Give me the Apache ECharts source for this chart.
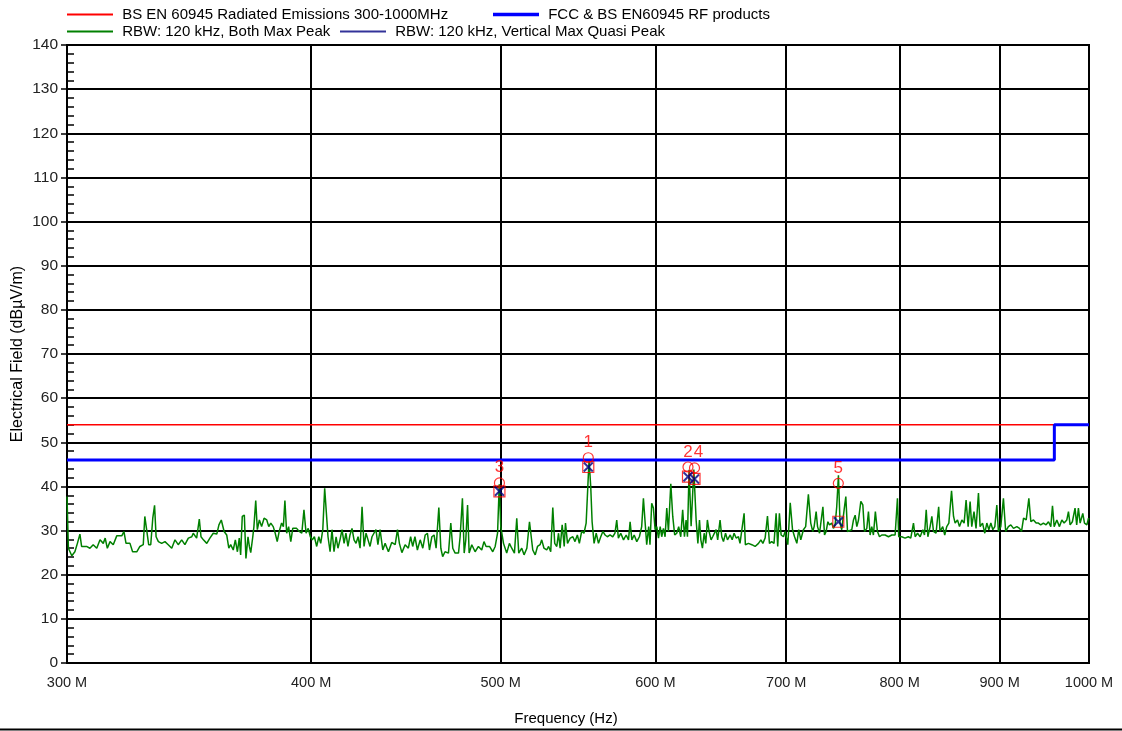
<!DOCTYPE html>
<html><head><meta charset="utf-8">
<script src="https://cdn.jsdelivr.net/npm/echarts@6/dist/echarts.min.js"></script>
<style>html,body{margin:0;padding:0;background:#fff}#c{width:1122px;height:731px}</style>
</head><body><div id="c"></div>
<script>
// ---- data (frequency in MHz, level in dBµV/m) ----
const xTickValues = [300, 400, 500, 600, 700, 800, 900, 1000];
const seriesNames = ['BS EN 60945 Radiated Emissions 300-1000MHz', 'FCC & BS EN60945 RF products',
  'RBW: 120 kHz, Both Max Peak', 'RBW: 120 kHz, Vertical Max Quasi Peak'];
const limitEN = [[300, 54], [1000, 54]];
const limitFCC = [[300, 46], [960, 46], [960, 54], [1000, 54]];
const maxPeakTrace = [
[300.0,37.7],[300.5,26],[301.7,24.3],[302.8,25.2],[303.7,27.1],[304.6,29.2],[305.2,26.4],[307.0,26.4],[308.2,26],[309.4,26.8],
[310.7,26],[311.9,27.9],[313.1,27.1],[313.8,28.3],[314.6,26],[315.6,27.5],[316.8,26.8],[318.1,28.8],[320.0,28.8],[320.8,29.8],
[321.6,27.1],[323.1,27.1],[324.1,25.2],[325.7,25.2],[326.9,26.4],[328.2,26.8],[328.8,33.2],[329.5,32.8],[330.3,26.8],[331.1,26.8],
[331.9,32.8],[332.6,35.7],[333.2,28.6],[334.1,27.5],[335.4,27.1],[336.7,27.5],[338.0,26.8],[339.4,26],[340.7,27.9],[342.0,26.8],
[343.4,27.9],[344.7,26.8],[346.1,28.3],[347.5,28.6],[348.1,29.4],[349.5,28.3],[350.6,32.6],[351.3,28.6],[352.3,27.9],[353.7,27.1],
[355.0,28.3],[356.4,29.4],[357.9,29.2],[358.8,31.3],[359.8,32.4],[361.0,29.8],[362.1,29],[363.0,26],[363.8,26.8],[364.9,25.6],
[365.8,27.9],[366.7,25.2],[367.5,28.3],[368.1,24.5],[368.8,33.2],[369.7,33.5],[370.4,23.7],[371.3,28.6],[371.9,26.4],[372.5,25],
[373.4,28.6],[373.9,30.9],[374.7,36.8],[375.4,30.2],[376.3,32.4],[377.3,30.9],[378.4,32.8],[379.6,32.4],[380.5,30.9],[381.4,31.7],
[382.5,30.9],[383.4,29.4],[384.3,27.5],[385.2,29.8],[386.3,31.7],[387.1,30.9],[387.8,36.8],[388.6,29.4],[389.5,30.9],[390.5,27.5],
[391.4,30.5],[392.3,30.2],[393.2,30.5],[394.4,29.8],[395.6,29.4],[396.6,34.7],[397.6,29.4],[398.6,30.5],[399.6,28.6],[400.5,27.9],
[401.5,28.6],[402.6,26.4],[403.6,28.6],[404.5,27.1],[405.5,30.2],[406.4,39.6],[407.0,39.6],[408.0,28.6],[409.0,25.2],[409.9,30.2],
[410.9,25.2],[411.9,28.6],[412.8,26],[413.8,27.9],[414.8,30.2],[415.8,27.1],[416.7,29.4],[417.7,26.4],[418.7,29],[419.7,30.5],
[420.7,27.9],[421.7,27.1],[422.7,28.6],[423.7,26],[424.7,35.4],[425.7,26.4],[426.7,29.4],[427.7,27.9],[428.7,26.4],[429.7,28.6],
[430.7,28.6],[431.7,30.2],[432.7,26.8],[433.8,30.2],
[435.2,25.6],[436.4,27.1],[438.1,25.2],[439.8,27.3],[441.6,26.8],[442.8,30.2],[443.8,27.1],[445.1,25],[446.8,26.8],[448.5,26],
[449.7,28.6],[450.8,26.4],[452.0,28.6],[453.3,25.6],[454.8,27.9],[456.2,26],[457.5,29],[458.7,29.4],[459.8,25.6],[461.1,28.6],
[462.3,29],[463.4,26],[464.9,35.2],[466.0,26],[467.0,24.1],[468.3,25.2],[470.2,24.9],[471.5,31.7],[472.6,26],[473.9,24.9],
[475.8,24.9],[476.7,28.6],[478.0,37.3],[479.0,24.9],[479.9,27.9],[480.9,35.8],[481.8,24.9],[483.3,26.8],[485.2,25.2],[487.1,26.4],
[489.0,25.6],[490.3,27.5],[491.5,26.4],[493.5,26.4],[495.4,25.2],[496.8,26.4],[498.2,29.4],[499.2,40.5],[500.1,30.9],[501.7,27.1],
[503.6,24.9],[505.2,27.1],[506.6,26],[508.2,24.9],[509.6,32.8],[510.8,24.9],[512.6,26],[514.0,24.5],[515.7,26],[517.3,32],
[518.3,32.4],[519.3,25.6],[520.8,24.5],[522.2,26.4],[523.8,26.8],[524.8,27.9],[526.2,26],[527.9,25.6],[529.1,26.4],[530.4,25.2],
[531.7,35.2],[532.9,27.1],[534.2,26.4],[535.3,29.4],[536.3,26],[537.6,31.3],[538.9,26.4],[539.7,31.7],[541.0,27.1],[542.7,28.3],
[544.4,28.6],[545.8,27.5],[547.3,29],[548.6,27.1],[550.1,29.8],[551.6,29.4],[553.0,31.7],[554.1,40],[554.9,46],[556.0,40],
[556.9,32],[558.2,27.1],[559.6,29.4],[561.1,27.1],[562.6,28.6],[564.0,29.8],[565.5,29],[567.0,28.6],[568.8,29],[570.6,28.6],
[572.1,29.4],[573.3,32.4],[574.4,28.3],[576.0,29.4],[577.9,27.9],[579.7,29],[581.3,27.9],[582.4,32],[583.6,27.9],[585.2,29],
[587.0,27.5],[588.8,28.6],[590.4,30.9],[591.6,37.3],[592.7,37.3],[593.9,26.8],[595.3,30.9],[596.2,26.8],[597.4,36.2],[598.6,35.1],
[599.8,30.2],[601.0,30.9],[602.2,28.3],[603.4,30.9],[604.5,28.6],[605.7,30.5],[606.9,28.6],[608.1,35.1],[609.3,29.8],[611.0,40.6],
[612.4,33.2],[613.8,29],[615.3,29.4],[616.7,30.9],[618.2,28.6],[619.6,34.7],[620.9,28.6],[622.1,32.4],[623.1,28.6],[624.3,43.8],
[625.8,31],[627.8,43.8],[629.5,32.4],[630.8,27.1],[632.0,32.4],[633.0,27.9],[634.2,26],[635.5,29.4],[636.7,27.1],[637.9,32.4],
[639.2,29.8],[640.7,27.9],[641.9,28.6],[643.2,28.3],[644.5,30.2],[645.7,27.9],[647.5,32.4],[648.8,28.6],[650.1,27.5],[651.7,29.4],
[653.2,27.9],[655.3,29],[656.8,27.9],[658.3,29.4],[659.9,28.3],[661.7,28.6],
[662.9,27.1],[666.1,33.9],[667.1,26.8],[669.5,27.1],[672.2,26.8],[674.8,26.4],[677.5,27.1],[679.4,27.9],[681.0,27.1],[682.8,28.3],
[684.7,33.3],[686.3,27.1],[688.1,27.5],[690.0,27.1],[691.7,33.9],[693.0,26.4],[694.4,33.9],[695.8,29],[697.7,28.6],[699.1,29.8],
[701.3,26.8],[703.3,36.3],[705.2,30.2],[706.9,28.6],[708.8,27.1],[710.4,30.2],[712.1,27.9],[714.3,30.2],[716.2,30.9],[718.5,38.2],
[720.5,31.7],[722.2,29.8],[723.4,30.9],[725.1,34.3],[726.3,30.9],[728.0,29.4],[729.4,29.8],[730.9,35.4],[732.3,29],[733.7,29.8],
[735.2,32],[736.6,31.3],[738.6,31.7],[740.0,30.5],[741.5,31.3],[742.9,35.4],[744.4,42.5],[745.8,31.7],[747.3,30.2],[749.4,34.7],
[750.9,37.7],[752.4,29.8],[754.1,29.8],[756.2,30.2],[757.7,32.4],[759.2,33.5],[760.7,30.9],[762.2,32.4],[764.3,36.6],[766.1,35.8],
[767.6,29.8],[769.7,30.5],[771.2,34.3],[772.7,29],[774.2,30.9],[775.7,29],[777.5,34.3],[779.4,29.8],[781.3,28.6],[783.4,29],
[786.5,29],[789.6,28.6],[792.7,29],[795.8,29],[798.0,37.3],[799.2,28.6],[802.0,28.6],[805.2,28.3],[808.3,28.6],[810.6,28.3],
[813.2,31.7],[814.8,28.6],[817.1,29.4],[819.6,28.6],[822.2,30.2],[823.8,29],[825.5,34.7],[827.1,28.6],[829.3,30.9],[831.0,33.2],
[832.6,29.8],[835.1,29.4],[837.7,35.4],[839.0,29.8],[841.7,30.9],[843.7,29],[845.7,30.9],[847.8,31.7],[850.5,39],[852.5,33.2],
[854.1,31.7],[856.5,32.4],[858.5,30.9],[860.9,32.4],[863.2,31.7],[865.2,36.9],[867.3,30.9],[869.3,36.6],[871.0,30.9],[873.3,34.3],
[875.4,30.5],[877.9,38.5],[879.6,30.9],[882.1,31.7],[884.5,29.4],[886.6,31.7],[888.7,30.2],[890.8,31.7],[892.9,30.2],[895.0,30.9],
[897.1,35.8],[898.8,29.8],[901.3,30.9],[904.1,37.3],[906.5,29.8],[909.4,30.9],[912.0,31.3],[914.9,30.5],[918.5,30.9],[921.4,30.5],
[923.6,29.8],[925.8,32.8],[928.7,32.4],[931.6,37.3],[933.8,32],[936.7,32.4],[939.6,31.7],[942.1,31.7],[944.7,31.3],[947.7,31.7],
[950.7,31.3],[953.4,32],[956.0,30.9],[957.9,35.6],[959.8,30.9],[962.8,32.4],[965.8,30.9],[968.5,32.4],[971.1,31.7],[974.2,32.4],
[976.1,34.3],[978.0,31.3],[980.6,32],[983.7,35.1],[985.6,31.3],[987.6,35.1],[989.6,31.7],[992.7,33.9],[994.7,31.7],[997.5,31.3],
[999.4,32.8],[1000,32.5]
];
const markerLabels = ['1', '2', '3', '4', '5'];
const markerFreq = [554.4, 623.5, 499.3, 628.3, 744.3];
const markerPeak = [46.5, 44.4, 40.8, 44.2, 40.7];
const markerQuasiPeak = [44.4, 42.2, 38.9, 41.7, 32.0];

// ---- chart ----
const FONT = 'Liberation Sans, Arial, sans-serif';
const chart = echarts.init(document.getElementById('c'), null, {renderer: 'canvas'});
const peakPts = markerFreq.map((f, i) => {
  const near = markerFreq.some((g, j) => j !== i && g < f && f - g < 10);
  return {value: [f, markerPeak[i]], label: near ? {offset: [4, 0]} : {}};
});
const qpPts = markerFreq.map((f, i) => [f, markerQuasiPeak[i]]);
const red = '#ff0000';
const thinIcon = 'path://M0,0H100V4H0Z';
const thickIcon = 'path://M0,0H100V7.5H0Z';
function legendAt(left, top, name, icon, color) {
  return {left: left, top: top, padding: 0, itemWidth: 46, itemHeight: 14, formatter: ' {name}',
    textStyle: {fontSize: 15, color: '#000', fontFamily: FONT},
    data: [{name: name, icon: icon, itemStyle: {color: color, borderWidth: 0}}]};
}
chart.setOption({
  animation: false,
  textStyle: {fontFamily: FONT},
  grid: {left: 67, right: 33, top: 45, bottom: 68, outerBoundsMode: 'none', containLabel: false,
    show: true, borderColor: '#000', borderWidth: 2, backgroundColor: 'transparent'},
  legend: [
    legendAt(67, 7, seriesNames[0], thinIcon, red),
    legendAt(493, 7, seriesNames[1], thickIcon, '#0000ff'),
    legendAt(67, 24, seriesNames[2], thinIcon, '#008000'),
    legendAt(340, 24, seriesNames[3], thinIcon, '#000080')
  ],
  xAxis: {
    type: 'log', logBase: 10, min: 300, max: 1000,
    name: 'Frequency (Hz)', nameLocation: 'middle', nameGap: 48, nameMoveOverlap: false,
    nameTextStyle: {fontSize: 15, color: '#000', fontFamily: FONT, padding: [0, 24, 0, 0]},
    axisLine: {show: true, lineStyle: {color: '#000', width: 2}},
    axisTick: {show: false, customValues: xTickValues},
    axisLabel: {customValues: xTickValues, formatter: v => v + ' M', fontSize: 14.5, color: '#222', margin: 12, fontFamily: FONT},
    splitLine: {show: true, lineStyle: {color: '#000', width: 2}}
  },
  yAxis: [
    {type: 'value', min: 0, max: 140, interval: 10, position: 'left',
     name: 'Electrical Field (dBµV/m)', nameLocation: 'middle', nameGap: 41, nameMoveOverlap: false,
     nameTextStyle: {fontSize: 16, color: '#000', fontFamily: FONT},
     axisLine: {show: true, lineStyle: {color: '#000', width: 2}},
     axisTick: {show: true, length: 6, lineStyle: {color: '#000', width: 1.5}},
     axisLabel: {fontSize: 15.5, color: '#222', margin: 9, fontFamily: FONT},
     splitLine: {show: true, lineStyle: {color: '#000', width: 2}}},
    {type: 'value', min: 0, max: 140, interval: 10, position: 'left',
     axisLine: {show: false}, axisTick: {show: false, inside: true},
     minorTick: {show: true, splitNumber: 5, length: 7, lineStyle: {color: '#000', width: 1.5}},
     axisLabel: {show: false}, splitLine: {show: false}}
  ],
  series: [
    {name: seriesNames[2], type: 'line', data: maxPeakTrace, symbol: 'none', z: 2,
     lineStyle: {color: '#008000', width: 1.5}, itemStyle: {color: '#008000'}},
    {name: seriesNames[0], type: 'line', data: limitEN, symbol: 'none', z: 3,
     lineStyle: {color: red, width: 1.5}, itemStyle: {color: red}},
    {name: seriesNames[1], type: 'line', data: limitFCC, symbol: 'none', z: 3,
     lineStyle: {color: '#0000ff', width: 3}, itemStyle: {color: '#0000ff'}},
    {name: 'peak', type: 'scatter', data: peakPts, symbol: 'circle', symbolSize: 10, z: 5,
     itemStyle: {color: 'rgba(0,0,0,0)', borderColor: red, borderWidth: 1.2},
     label: {show: true, position: 'top', distance: 1, color: red, fontSize: 17, fontFamily: FONT,
       formatter: p => markerLabels[p.dataIndex]}},
    {name: 'qpbox', type: 'scatter', data: qpPts, symbol: 'rect', symbolSize: 11, z: 5,
     itemStyle: {color: 'rgba(0,0,0,0)', borderColor: red, borderWidth: 1.2}},
    {name: seriesNames[3], type: 'scatter', data: qpPts, symbol: 'path://M0,0L10,10M10,0L0,10', symbolSize: 9, z: 6,
     itemStyle: {color: 'none', borderColor: '#000080', borderWidth: 2}}
  ],
  graphic: [
    {type: 'line', shape: {x1: 0, y1: 729.5, x2: 1122, y2: 729.5}, style: {stroke: '#000', lineWidth: 2}, silent: true}
  ]
});
</script>
</body></html>
